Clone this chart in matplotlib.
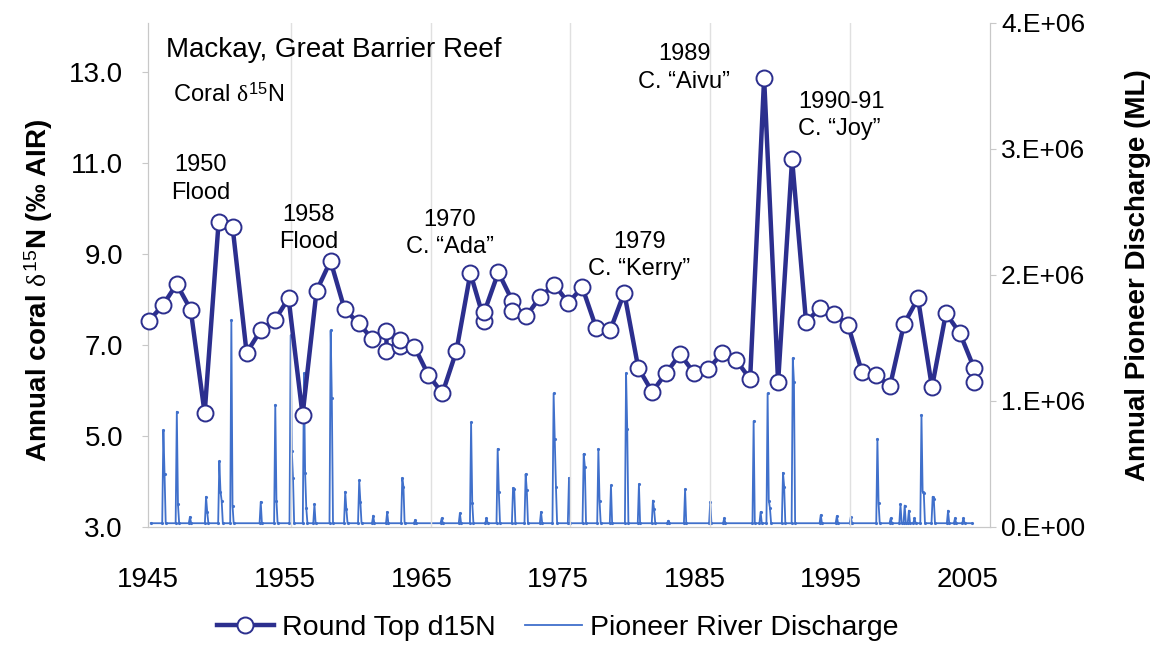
import numpy as np
import matplotlib
matplotlib.use("Agg")
import matplotlib.pyplot as plt
from matplotlib.lines import Line2D

plt.rcParams['font.family'] = ['Liberation Sans', 'DejaVu Sans']
plt.rcParams['mathtext.fontset'] = 'custom'
plt.rcParams['mathtext.rm'] = 'Liberation Sans'
plt.rcParams['mathtext.it'] = 'Liberation Serif'
plt.rcParams['mathtext.bf'] = 'Liberation Sans:bold'

# coral d15N, Round Top (some years have two samples)
coral_years = [1945, 1946, 1947, 1948, 1949, 1950, 1951, 1952, 1953, 1954,
               1955, 1956, 1957, 1958, 1959, 1960, 1961, 1962, 1962, 1963,
               1963, 1964, 1965, 1966, 1967, 1968, 1969, 1969, 1970, 1971,
               1971, 1972, 1973, 1974, 1975, 1976, 1977, 1978, 1979, 1980,
               1981, 1982, 1983, 1984, 1985, 1986, 1987, 1988, 1989, 1990,
               1991, 1992, 1993, 1994, 1995, 1996, 1997, 1998, 1999, 2000,
               2001, 2002, 2003, 2004, 2004]
coral_d15n = [7.53, 7.87, 8.34, 7.78, 5.50, 9.71, 9.59, 6.83, 7.32, 7.54,
              8.03, 5.46, 8.19, 8.85, 7.79, 7.48, 7.13, 7.31, 6.87, 6.98,
              7.11, 6.96, 6.34, 5.94, 6.87, 8.58, 7.53, 7.73, 8.60, 7.97,
              7.75, 7.64, 8.06, 8.33, 7.93, 8.27, 7.37, 7.33, 8.15, 6.50,
              5.97, 6.39, 6.80, 6.38, 6.47, 6.82, 6.67, 6.25, 12.87, 6.18,
              11.09, 7.50, 7.82, 7.68, 7.44, 6.40, 6.34, 6.10, 7.46, 8.03,
              6.07, 7.70, 7.26, 6.50, 6.19]

# Pioneer River discharge (ML): flood peaks and the following months
q_years = [1945.9, 1946.86, 1947.8, 1948.95, 1949.9, 1950.76, 1952.86, 1953.9,
           1955.0, 1955.95, 1956.7, 1957.86, 1958.9, 1959.9, 1960.9, 1961.9,
           1962.98, 1963.9, 1965.8, 1967.1, 1967.9, 1969.0, 1969.8, 1970.9,
           1971.8, 1972.9, 1973.8, 1974.9, 1975.95, 1977.0, 1977.9, 1978.98,
           1979.9, 1980.9, 1982.0, 1983.2, 1985.0, 1986.0, 1988.1, 1988.6,
           1989.1, 1990.2, 1990.9, 1992.9, 1994.05, 1995.05, 1996.95, 1997.9,
           1998.6, 1998.9, 1999.2, 1999.6, 2000.1, 2000.9, 2002.0, 2002.5,
           2003.1]
q_peak = [770000, 915000, 80000, 240000, 520000, 1640000, 200000, 970000,
          1520000, 1220000, 180000, 1560000, 280000, 370000, 90000, 120000,
          390000, 55000, 70000, 110000, 830000, 70000, 620000, 310000,
          420000, 120000, 1060000, 390000, 580000, 620000, 330000, 1220000,
          340000, 210000, 50000, 300000, 200000, 70000, 840000, 120000,
          1060000, 430000, 1340000, 95000, 87000, 80000, 700000, 70000,
          180000, 170000, 130000, 70000, 890000, 240000, 130000, 70000,
          70000]
q_next1 = [420000, 180000, 0, 120000, 280000, 170000, 0, 210000,
           600000, 430000, 0, 1020000, 140000, 200000, 0, 0,
           320000, 0, 0, 0, 190000, 0, 280000, 300000,
           290000, 0, 700000, 0, 480000, 210000, 0, 780000,
           0, 140000, 0, 0, 0, 0, 0, 0,
           210000, 320000, 1150000, 0, 0, 0, 190000, 0,
           0, 0, 0, 0, 280000, 220000, 0, 0,
           0]
q_next2 = [0, 0, 0, 0, 210000, 0, 0, 0,
           390000, 150000, 0, 0, 0, 0, 0, 0,
           0, 0, 0, 0, 0, 0, 0, 0,
           0, 0, 320000, 0, 0, 0, 0, 0,
           0, 0, 0, 0, 0, 0, 0, 0,
           150000, 0, 0, 0, 0, 0, 0, 0,
           0, 0, 0, 0, 270000, 0, 0, 0,
           0]
q_base = 30000
q_start, q_end = 1945.0, 2003.7

# monthly line through the read points
month = 1 / 12
qt, qv = [q_start], [q_base]
for t, p, a1, a2 in zip(q_years, q_peak, q_next1, q_next2):
    qt += [t - month, t]
    qv += [q_base, p]
    k = 1
    for a in (a1, a2):
        if a:
            qt.append(t + k * month)
            qv.append(a)
            k += 1
    qt.append(t + k * month)
    qv.append(q_base)
qt.append(q_end)
qv.append(q_base)

coral_col = '#2c2f8e'
flow_col = '#4070cb'
grey = '#c8c8c8'

fig = plt.figure(figsize=(11.62, 6.47), dpi=100)
ax = fig.add_axes([148 / 1162, 120 / 647, 842 / 1162, 504 / 647])
ax2 = ax.twinx()

ax2.plot(qt, qv, color=flow_col, lw=1.3, marker='.', ms=2.5, zorder=2)
ax.plot(np.array(coral_years) - 0.15, coral_d15n, color=coral_col, lw=3.2,
        marker='o', ms=11.5, mfc='white', mec=coral_col, mew=1.4, zorder=5,
        clip_on=False)
ax.set_zorder(ax2.get_zorder() + 1)
ax.patch.set_visible(False)

ax.set_xlim(1944.86, 2005)
ax.set_ylim(3, 14.08)
ax2.set_ylim(0, 4e6)

ax.set_yticks([3, 5, 7, 9, 11, 13])
ax.set_yticklabels(['3.0', '5.0', '7.0', '9.0', '11.0', '13.0'])
ax2.set_yticks([0, 1e6, 2e6, 3e6, 4e6])
ax2.set_yticklabels(['0.E+00', '1.E+06', '2.E+06', '3.E+06', '4.E+06'])

# decade gridlines, labels sit a little left of them as in the original
ax.set_xticks(np.arange(1955, 2005, 10), minor=True)
ax.grid(True, which='minor', axis='x', color='#e0e0e0', lw=1.0)
label_pos = [1944.8, 1954.6, 1964.4, 1974.1, 1983.9, 1993.6, 2003.4]
ax.set_xticks(label_pos)
ax.set_xticklabels(['1945', '1955', '1965', '1975', '1985', '1995', '2005'])
ax.tick_params(axis='x', which='both', length=0, labelsize=20, pad=29)
ax.tick_params(axis='y', length=4, color=grey, labelsize=20, pad=14)
ax2.tick_params(axis='y', length=4, color=grey, labelsize=19, pad=4)

for a in (ax, ax2):
    a.spines['top'].set_visible(False)
    for s in ('left', 'right', 'bottom'):
        a.spines[s].set_color(grey)

ax.set_ylabel(r'Annual coral $\delta^{15}$N (‰ AIR)', fontsize=20,
              fontweight='bold')
ax.yaxis.set_label_coords(-0.110, 0.47)
ax2.set_ylabel('Annual Pioneer Discharge (ML)', fontsize=20,
               fontweight='bold', rotation=90)
ax2.yaxis.set_label_coords(1.160, 0.5)

ax.text(1946.07, 13.48, 'Mackay, Great Barrier Reef', fontsize=20,
        ha='left', va='center')
ax.text(1946.57, 12.49, r'Coral $\delta^{15}$N', fontsize=17,
        ha='left', va='center')

notes = [
    (1948.57, 10.65, '1950\nFlood', 'center'),
    (1956.29, 9.57, '1958\nFlood', 'center'),
    (1966.36, 9.46, '1970\nC. \u201cAda\u201d', 'center'),
    (1979.93, 8.96, '1979\nC. \u201cKerry\u201d', 'center'),
    (1983.14, 13.09, '1989\nC. \u201cAivu\u201d', 'center'),
    (1991.29, 12.05, '1990-91\nC. \u201cJoy\u201d', 'left'),
]
for x, y, s, ha in notes:
    ax.text(x, y, s, fontsize=17, ha=ha, va='center', multialignment=ha,
            linespacing=1.3)

handles = [
    Line2D([], [], color=coral_col, lw=3.2, marker='o', ms=11.5,
           mfc='white', mec=coral_col, mew=1.4),
    Line2D([], [], color=flow_col, lw=1.3),
]
fig.legend(handles, ['Round Top d15N', 'Pioneer River Discharge'],
           loc='center', bbox_to_anchor=(0.48, 0.029), ncol=2,
           frameon=False, fontsize=20.5, handlelength=2.0,
           columnspacing=1.0, handletextpad=0.3)

fig.savefig('out.png', dpi=100)
